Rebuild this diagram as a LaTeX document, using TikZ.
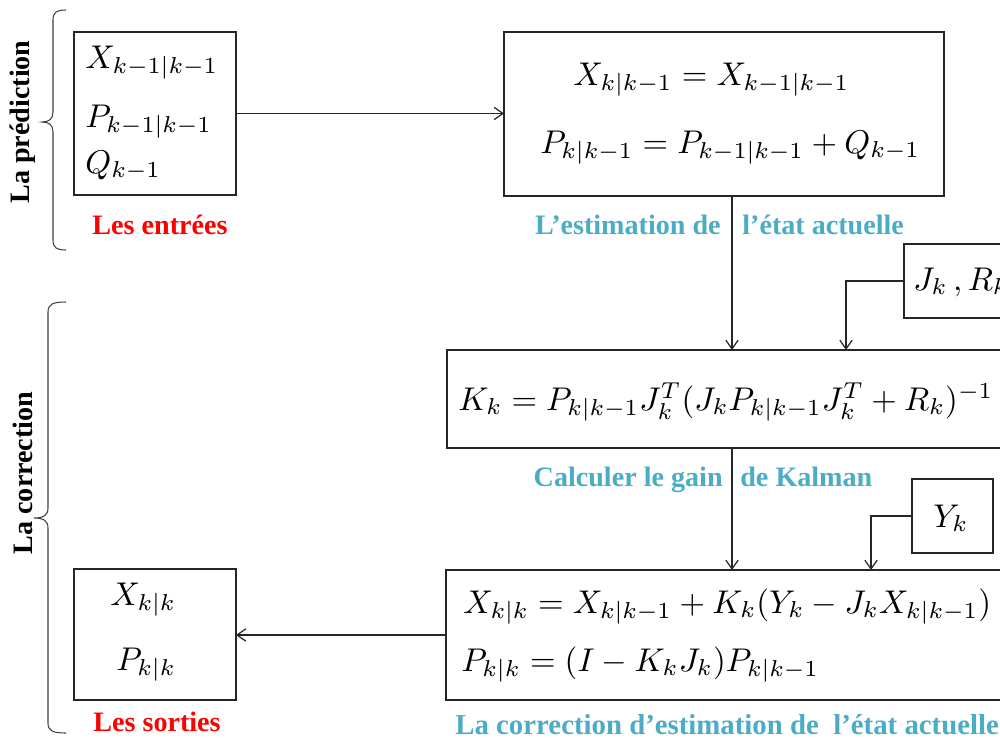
\documentclass[tikz,border=0pt]{standalone}
\usepackage{graphicx}
\usepackage[no-math]{fontspec}
\newfontfamily\tnr{Liberation Serif}
\usetikzlibrary{arrows.meta}
\definecolor{lblue}{HTML}{4BACC6}
\newcommand{\kfmath}[1]{\scalebox{1.87}{$#1$}}
\tikzset{
  box/.style={draw=black!85, line width=0.7pt, rectangle, inner sep=0pt, outer sep=0pt, anchor=north west},
  mth/.style={inner sep=0pt, anchor=base west},
  lbl/.style={inner sep=0pt, font=\tnr\bfseries\fontsize{16}{19}\selectfont},
  side/.style={inner sep=0pt, rotate=90, font=\tnr\bfseries\fontsize{16}{19}\selectfont},
  conn/.style={draw=black!85, line width=0.7pt, -{Straight Barb[length=5pt,width=7pt]}},
  brc/.style={draw=black!75, line width=0.6pt}
}
\begin{document}
\begin{tikzpicture}[x=0.02cm, y=-0.02cm]
\useasboundingbox (0,0) rectangle (1000,744);
\clip (0,0) rectangle (1000,744);
\fill[white] (0,0) rectangle (1000,744);

% braces
\draw[brc] (66,10) .. controls (57,10) and (53,12) .. (53,20) -- (53,112)
  .. controls (53,119) and (49,122) .. (42,122)
  .. controls (49,122) and (53,125) .. (53,132) -- (53,240)
  .. controls (53,248) and (57,250) .. (66,250);
\draw[brc] (66,302) .. controls (53,302) and (48,304) .. (48,312) -- (48,508)
  .. controls (48,515) and (44,518) .. (34,518)
  .. controls (44,518) and (48,521) .. (48,528) -- (48,723)
  .. controls (48,731) and (53,733) .. (66,733);
\node[side] (sp) at (23,122) {La prédiction};
\node[side] (sc) at (23,473) {La correction};

% boxes
\node[box, minimum width=3.24cm, minimum height=3.26cm] (b1) at (74,32) {};
\node[box, minimum width=8.8cm, minimum height=3.28cm] (b2) at (504,32) {};
\node[box, minimum width=2.4cm, minimum height=1.48cm] (jr) at (904,244) {};
\node[box, minimum width=11.4cm, minimum height=1.96cm] (b3) at (447,350) {};
\node[box, minimum width=1.62cm, minimum height=1.48cm] (yk) at (912,479) {};
\node[box, minimum width=11.4cm, minimum height=2.6cm] (b4) at (446,570) {};
\node[box, minimum width=3.24cm, minimum height=2.62cm] (b5) at (74,569) {};

% math texts
\node[mth] (t11) at (85,68) {\kfmath{X_{k-1|k-1}}};
\node[mth] (t12) at (85,127) {\kfmath{P_{k-1|k-1}}};
\node[mth] (t13) at (85,173) {\kfmath{Q_{k-1}}};
\node[mth] (t21) at (573,85) {\kfmath{X_{k|k-1}=X_{k-1|k-1}}};
\node[mth] (t22) at (540,153) {\kfmath{P_{k|k-1}=P_{k-1|k-1}+Q_{k-1}}};
\node[mth] (tj) at (913,290) {\kfmath{J_k\,{,}\,R_k}};
\node[mth] (t3) at (458,410) {\kfmath{K_k=P_{k|k-1}J_k^T(J_kP_{k|k-1}J_k^T+R_k)^{-1}}};
\node[mth] (ty) at (933,527) {\kfmath{Y_k}};
\node[mth] (t41) at (463,613) {\kfmath{X_{k|k}=X_{k|k-1}+K_k(Y_k-J_kX_{k|k-1})}};
\node[mth] (t42) at (461,671) {\kfmath{P_{k|k}=(I-K_kJ_k)P_{k|k-1}}};
\node[mth] (t51) at (110,605) {\kfmath{X_{k|k}}};
\node[mth] (t52) at (116,670) {\kfmath{P_{k|k}}};

% labels
\node[lbl, text=red] (le) at (160,225) {Les entrées};
\node[lbl, text=red] (ls) at (157,722) {Les sorties};
\node[lbl, text=lblue, anchor=base east] (l2a) at (721,234) {L’estimation de};
\node[lbl, text=lblue, anchor=base west] (l2b) at (742,234) {l’état actuelle};
\node[lbl, text=lblue, anchor=base east] (l3a) at (723,486) {Calculer le gain};
\node[lbl, text=lblue, anchor=base west] (l3b) at (740,486) {de Kalman};
\node[lbl, text=lblue, anchor=base west, font=\tnr\bfseries\fontsize{16.4}{19}\selectfont] (l4) at (455,734) {La correction d’estimation de\ \ l’état actuelle};

% connector columns
\coordinate (cm) at (732,0);
\coordinate (cj) at (846,0);
\coordinate (cy) at (871,0);

% connectors
\draw[conn] (b1.east) -- (b1.east -| b2.west);
\draw[conn] (b2.south -| cm) -- (b3.north -| cm);
\draw[conn] (jr.west) -| (b3.north -| cj);
\draw[conn] (b3.south -| cm) -- (b4.north -| cm);
\draw[conn] (yk.west) -| (b4.north -| cy);
\draw[conn] (b4.west) -- (b4.west -| b5.east);
\end{tikzpicture}
\end{document}
